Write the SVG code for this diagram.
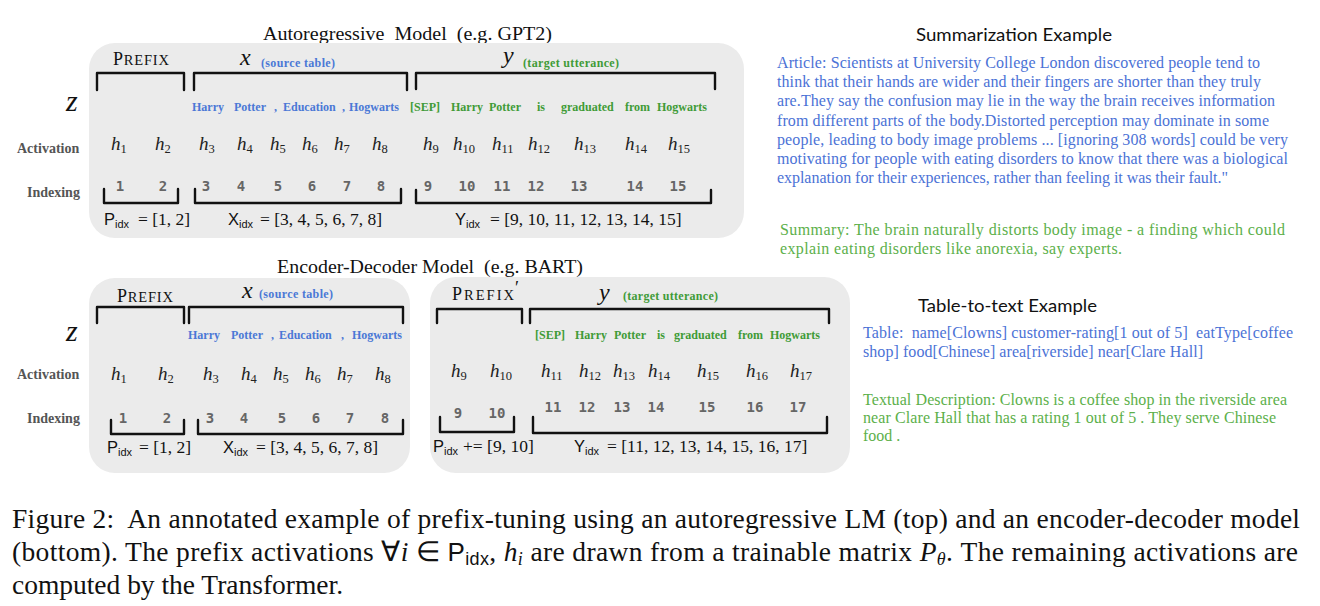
<svg xmlns="http://www.w3.org/2000/svg" width="1320" height="606" viewBox="0 0 1320 606">
<style>
.bg{fill:#ffffff}
.panel{fill:#ebebeb}
.title{font-family:"Liberation Serif",serif;font-size:18.5px;fill:#111}
.pre{font-family:"Liberation Serif",serif;font-size:18px;fill:#111}
.pres{font-size:14.5px}
.mv{font-family:"Liberation Serif",serif;font-style:italic;font-size:24px;fill:#111}
.z{font-family:"Liberation Serif",serif;font-style:italic;font-size:30px;fill:#111}
.srcb{font-family:"Liberation Serif",serif;font-weight:bold;font-size:12px;fill:#4a78d6}
.srcg{font-family:"Liberation Serif",serif;font-weight:bold;font-size:12px;fill:#3f9b37}
.tb{font-family:"Liberation Serif",serif;font-weight:bold;font-size:12px;fill:#4a78d6}
.tg{font-family:"Liberation Serif",serif;font-weight:bold;font-size:12px;fill:#3f9b37}
.lbl{font-family:"Liberation Serif",serif;font-weight:bold;font-size:14px;fill:#555}
.h{font-family:"Liberation Serif",serif;font-style:italic;font-size:19px;fill:#222}
.hs{font-style:normal;font-size:12.5px}
.idx{font-family:"DejaVu Sans Mono",monospace;font-weight:bold;font-size:14px;fill:#666;text-anchor:middle}
.br{fill:none;stroke:#111;stroke-width:2.4;stroke-linecap:round;stroke-linejoin:round}
.sf{font-family:"Liberation Sans",sans-serif;font-size:16.5px;fill:#111}
.sfs{font-size:11px}
.m{font-family:"Liberation Serif",serif;font-size:17.5px;fill:#111}
.ex{font-family:Lato,"Noto Sans",sans-serif;font-size:18px;fill:#111}
.art{font-family:"Liberation Serif",serif;font-size:16px;fill:#4b72d6}
.sum{font-family:"Liberation Serif",serif;font-size:16px;fill:#5cb04a}
.cap{font-family:"Liberation Serif",serif;font-size:27.5px;fill:#111}
</style>
<rect class="bg" x="0" y="0" width="1320" height="606"/>

<g id="autoregressive">
  <text class="title" x="263" y="40" textLength="289" lengthAdjust="spacingAndGlyphs" xml:space="preserve">Autoregressive  Model  (e.g. GPT2)</text>
  <rect class="panel" x="89" y="43" width="655" height="195" rx="26"/>
  <text class="pre" x="113" y="65" textLength="56">P<tspan class="pres">REFIX</tspan></text>
  <text class="mv" x="240" y="65">x</text>
  <text class="srcb" x="261" y="67" textLength="74">(source table)</text>
  <text class="mv" x="503" y="63">y</text>
  <text class="srcg" x="523" y="67" textLength="96">(target utterance)</text>
  <text class="z" x="66" y="111">z</text>
  <text class="tb" y="111"><tspan x="192">Harry</tspan><tspan x="234">Potter</tspan><tspan x="274">,</tspan><tspan x="283">Education</tspan><tspan x="342">,</tspan><tspan x="349">Hogwarts</tspan></text>
  <text class="tg" y="111"><tspan x="410">[SEP]</tspan><tspan x="451">Harry</tspan><tspan x="489">Potter</tspan><tspan x="537">is</tspan><tspan x="561">graduated</tspan><tspan x="625">from</tspan><tspan x="657">Hogwarts</tspan></text>
  <text class="lbl" x="17" y="153">Activation</text>
  <text class="lbl" x="27" y="197">Indexing</text>
  <text class="h" x="111" y="150">h<tspan class="hs" dy="3">1</tspan></text>
  <text class="h" x="155" y="150">h<tspan class="hs" dy="3">2</tspan></text>
  <text class="h" x="199" y="150">h<tspan class="hs" dy="3">3</tspan></text>
  <text class="h" x="237" y="150">h<tspan class="hs" dy="3">4</tspan></text>
  <text class="h" x="270" y="150">h<tspan class="hs" dy="3">5</tspan></text>
  <text class="h" x="302" y="150">h<tspan class="hs" dy="3">6</tspan></text>
  <text class="h" x="334" y="150">h<tspan class="hs" dy="3">7</tspan></text>
  <text class="h" x="372" y="150">h<tspan class="hs" dy="3">8</tspan></text>
  <text class="h" x="423" y="150">h<tspan class="hs" dy="3">9</tspan></text>
  <text class="h" x="453" y="150">h<tspan class="hs" dy="3">10</tspan></text>
  <text class="h" x="492" y="150">h<tspan class="hs" dy="3">11</tspan></text>
  <text class="h" x="528" y="150">h<tspan class="hs" dy="3">12</tspan></text>
  <text class="h" x="574" y="150">h<tspan class="hs" dy="3">13</tspan></text>
  <text class="h" x="625" y="150">h<tspan class="hs" dy="3">14</tspan></text>
  <text class="h" x="668" y="150">h<tspan class="hs" dy="3">15</tspan></text>
  <text class="idx" y="191"><tspan x="120">1</tspan><tspan x="163">2</tspan><tspan x="206">3</tspan><tspan x="241">4</tspan><tspan x="278">5</tspan><tspan x="312">6</tspan><tspan x="347">7</tspan><tspan x="381">8</tspan><tspan x="428">9</tspan><tspan x="467">10</tspan><tspan x="502">11</tspan><tspan x="536">12</tspan><tspan x="579">13</tspan><tspan x="635">14</tspan><tspan x="678">15</tspan></text>
  <text y="225"><tspan class="sf" x="104">P</tspan><tspan class="sf sfs" dy="3">idx</tspan><tspan class="m" x="138" dy="-3">= [1, 2]</tspan></text>
  <text y="225"><tspan class="sf" x="228">X</tspan><tspan class="sf sfs" dy="3">idx</tspan><tspan class="m" x="260" dy="-3">= [3, 4, 5, 6, 7, 8]</tspan></text>
  <text y="225"><tspan class="sf" x="455">Y</tspan><tspan class="sf sfs" dy="3">idx</tspan><tspan class="m" x="490" dy="-3">= [9, 10, 11, 12, 13, 14, 15]</tspan></text>
</g>

<g id="encoder">
  <text class="title" x="277" y="273" textLength="306" lengthAdjust="spacingAndGlyphs" xml:space="preserve">Encoder-Decoder Model  (e.g. BART)</text>
  <rect class="panel" x="89" y="278" width="321" height="195" rx="26"/>
  <text class="pre" x="117" y="302" textLength="56">P<tspan class="pres">REFIX</tspan></text>
  <text class="mv" x="242" y="298">x</text>
  <text class="srcb" x="259" y="298" textLength="74">(source table)</text>
  <text class="z" x="66" y="341">z</text>
  <text class="tb" y="339"><tspan x="188">Harry</tspan><tspan x="231">Potter</tspan><tspan x="271">,</tspan><tspan x="279">Education</tspan><tspan x="341">,</tspan><tspan x="352">Hogwarts</tspan></text>
  <text class="lbl" x="17" y="379">Activation</text>
  <text class="lbl" x="27" y="423">Indexing</text>
  <text class="h" x="111" y="380">h<tspan class="hs" dy="3">1</tspan></text>
  <text class="h" x="158" y="380">h<tspan class="hs" dy="3">2</tspan></text>
  <text class="h" x="203" y="380">h<tspan class="hs" dy="3">3</tspan></text>
  <text class="h" x="241" y="380">h<tspan class="hs" dy="3">4</tspan></text>
  <text class="h" x="273" y="380">h<tspan class="hs" dy="3">5</tspan></text>
  <text class="h" x="305" y="380">h<tspan class="hs" dy="3">6</tspan></text>
  <text class="h" x="337" y="380">h<tspan class="hs" dy="3">7</tspan></text>
  <text class="h" x="375" y="380">h<tspan class="hs" dy="3">8</tspan></text>
  <text class="idx" y="423"><tspan x="123">1</tspan><tspan x="167">2</tspan><tspan x="210">3</tspan><tspan x="244">4</tspan><tspan x="282">5</tspan><tspan x="316">6</tspan><tspan x="350">7</tspan><tspan x="385">8</tspan></text>
  <text y="453"><tspan class="sf" x="107">P</tspan><tspan class="sf sfs" dy="3">idx</tspan><tspan class="m" x="139" dy="-3">= [1, 2]</tspan></text>
  <text y="453"><tspan class="sf" x="223">X</tspan><tspan class="sf sfs" dy="3">idx</tspan><tspan class="m" x="256" dy="-3">= [3, 4, 5, 6, 7, 8]</tspan></text>
</g>

<g id="decoder">
  <rect class="panel" x="430" y="277" width="420" height="196" rx="26"/>
  <text class="pre" x="452" y="300" textLength="62">P<tspan class="pres">REFIX</tspan></text>
  <text class="pre" x="515" y="294" font-size="14">′</text>
  <text class="mv" x="599" y="300">y</text>
  <text class="srcg" x="623" y="300" textLength="95">(target utterance)</text>
  <text class="tg" y="339"><tspan x="535">[SEP]</tspan><tspan x="575">Harry</tspan><tspan x="614">Potter</tspan><tspan x="657">is</tspan><tspan x="674">graduated</tspan><tspan x="738">from</tspan><tspan x="770">Hogwarts</tspan></text>
  <text class="h" x="451" y="377">h<tspan class="hs" dy="3">9</tspan></text>
  <text class="h" x="490" y="377">h<tspan class="hs" dy="3">10</tspan></text>
  <text class="h" x="541" y="377">h<tspan class="hs" dy="3">11</tspan></text>
  <text class="h" x="579" y="377">h<tspan class="hs" dy="3">12</tspan></text>
  <text class="h" x="613" y="377">h<tspan class="hs" dy="3">13</tspan></text>
  <text class="h" x="648" y="377">h<tspan class="hs" dy="3">14</tspan></text>
  <text class="h" x="697" y="377">h<tspan class="hs" dy="3">15</tspan></text>
  <text class="h" x="746" y="377">h<tspan class="hs" dy="3">16</tspan></text>
  <text class="h" x="790" y="377">h<tspan class="hs" dy="3">17</tspan></text>
  <text class="idx" y="418"><tspan x="458">9</tspan><tspan x="497">10</tspan></text>
  <text class="idx" y="412"><tspan x="553">11</tspan><tspan x="587">12</tspan><tspan x="622">13</tspan><tspan x="656">14</tspan><tspan x="707">15</tspan><tspan x="755">16</tspan><tspan x="798">17</tspan></text>
  <text y="452"><tspan class="sf" x="433">P</tspan><tspan class="sf sfs" dy="3">idx</tspan><tspan class="m" x="463" dy="-3">+= [9, 10]</tspan></text>
  <text y="452"><tspan class="sf" x="574">Y</tspan><tspan class="sf sfs" dy="3">idx</tspan><tspan class="m" x="607" dy="-3">= [11, 12, 13, 14, 15, 16, 17]</tspan></text>
</g>

<g id="connectors">
  <path class="br" d="M97 90V73H184V90"/>
  <path class="br" d="M194 90V73H407V90"/>
  <path class="br" d="M416 89V73H715V89"/>
  <path class="br" d="M104 189V203H178V189"/>
  <path class="br" d="M195 189V203H401V189"/>
  <path class="br" d="M416 190V203H711V190"/>
  <path class="br" d="M97 323V307H184V323"/>
  <path class="br" d="M189 323V307H403V323"/>
  <path class="br" d="M111 420V434H184V420"/>
  <path class="br" d="M198 420V434H403V420"/>
  <path class="br" d="M437 323V309H522V323"/>
  <path class="br" d="M530 323V309H829V323"/>
  <path class="br" d="M440 417V432H514V417"/>
  <path class="br" d="M533 417V433H827V417"/>
</g>

<g id="summarization">
  <text class="ex" x="916" y="41" textLength="196" lengthAdjust="spacingAndGlyphs">Summarization Example</text>
  <text class="art" x="777" y="68" textLength="483">Article: Scientists at University College London discovered people tend to</text>
  <text class="art" x="777" y="87" textLength="484">think that their hands are wider and their fingers are shorter than they truly</text>
  <text class="art" x="777" y="106" textLength="498">are.They say the confusion may lie in the way the brain receives information</text>
  <text class="art" x="777" y="126" textLength="492">from different parts of the body.Distorted perception may dominate in some</text>
  <text class="art" x="777" y="145" textLength="511">people, leading to body image problems ... [ignoring 308 words] could be very</text>
  <text class="art" x="777" y="164" textLength="511">motivating for people with eating disorders to know that there was a biological</text>
  <text class="art" x="777" y="183" textLength="451">explanation for their experiences, rather than feeling it was their fault."</text>
  <text class="sum" x="780" y="235" textLength="505">Summary: The brain naturally distorts body image - a finding which could</text>
  <text class="sum" x="780" y="254" textLength="342">explain eating disorders like anorexia, say experts.</text>
</g>

<g id="table2text">
  <text class="ex" x="918" y="312" textLength="179" lengthAdjust="spacingAndGlyphs">Table-to-text Example</text>
  <text class="art" x="863" y="338" textLength="430" xml:space="preserve">Table:  name[Clowns] customer-rating[1 out of 5]  eatType[coffee</text>
  <text class="art" x="863" y="357" textLength="340">shop] food[Chinese] area[riverside] near[Clare Hall]</text>
  <text class="sum" x="863" y="405" textLength="424">Textual Description: Clowns is a coffee shop in the riverside area</text>
  <text class="sum" x="863" y="423" textLength="413">near Clare Hall that has a rating 1 out of 5 . They serve Chinese</text>
  <text class="sum" x="863" y="441">food .</text>
</g>

<g id="caption">
  <text class="cap" x="12" y="528" textLength="1288" lengthAdjust="spacing" xml:space="preserve">Figure 2:  An annotated example of prefix-tuning using an autoregressive LM (top) and an encoder-decoder model</text>
  <text class="cap" x="12" y="561" textLength="1286" lengthAdjust="spacing">(bottom). The prefix activations ∀<tspan font-style="italic">i</tspan> ∈ <tspan font-family="Liberation Sans, sans-serif" font-size="26">P</tspan><tspan font-family="Liberation Sans, sans-serif" font-size="18" dy="4">idx</tspan><tspan dy="-4">, </tspan><tspan font-style="italic">h</tspan><tspan font-style="italic" font-size="18" dy="4">i</tspan><tspan dy="-4"> are drawn from a trainable matrix </tspan><tspan font-style="italic">P</tspan><tspan font-style="italic" font-size="18" dy="4">θ</tspan><tspan dy="-4">. The remaining activations are</tspan></text>
  <text class="cap" x="12" y="594" textLength="331" lengthAdjust="spacing">computed by the Transformer.</text>
</g>
</svg>
